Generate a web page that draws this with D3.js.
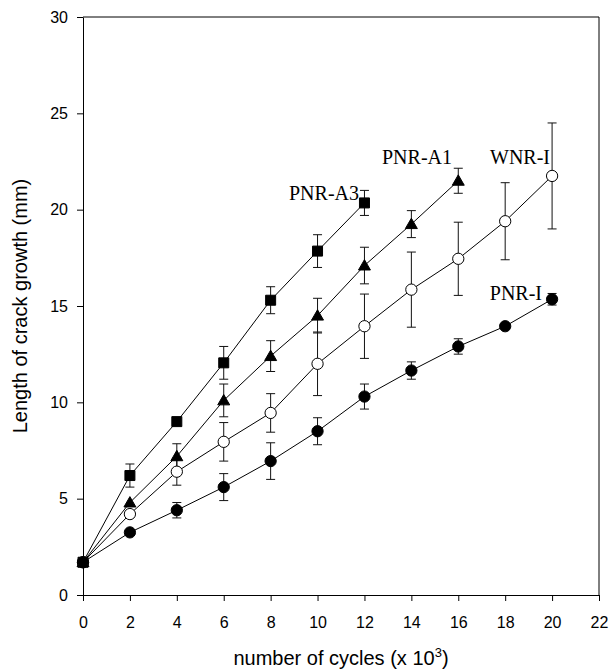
<!DOCTYPE html>
<html>
<head>
<meta charset="utf-8">
<script src="https://cdn.jsdelivr.net/npm/d3@7"></script>
<style>
  body { margin: 0; background: #fff; }
  svg { display: block; }
</style>
</head>
<body>
<div id="chart"></div>
<script>
// cycles (x 10^3) and crack growth (mm)
var cycles = [0, 2, 4, 6, 8, 10, 12, 14, 16, 18, 20];

var pnrA3    = [1.7, 6.2, 9.0, 12.05, 15.3, 17.85, 20.35];
var pnrA3Err = [0, 0.6, 0.15, 0.85, 0.7, 0.85, 0.65];

var pnrA1    = [1.7, 4.8, 7.2, 10.1, 12.4, 14.5, 17.1, 19.25, 21.5];
var pnrA1Err = [0, 0.2, 0.65, 0.85, 0.8, 0.9, 0.95, 0.7, 0.65];

var wnrI     = [1.7, 4.2, 6.4, 7.95, 9.45, 12.0, 13.95, 15.85, 17.45, 19.4, 21.75];
var wnrIErr  = [0, 0.1, 0.7, 1.0, 1.0, 1.65, 1.67, 1.95, 1.9, 2.0, 2.75];

var pnrI     = [1.7, 3.25, 4.4, 5.6, 6.95, 8.5, 10.3, 11.65, 12.9, 13.95, 15.35];
var pnrIErr  = [0, 0.1, 0.4, 0.7, 0.95, 0.7, 0.65, 0.45, 0.4, 0.1, 0.3];

var xTicks = [0, 2, 4, 6, 8, 10, 12, 14, 16, 18, 20, 22];
var yTicks = [0, 5, 10, 15, 20, 25, 30];

var width = 610, height = 670;
var margin = {top: 17, right: 11, bottom: 75, left: 83};

var series = [
  {name: "PNR-A3", y: pnrA3, err: pnrA3Err, shape: "square", lx: 359, ly: 200},
  {name: "PNR-A1", y: pnrA1, err: pnrA1Err, shape: "triangle", lx: 452, ly: 164},
  {name: "WNR-I", y: wnrI, err: wnrIErr, shape: "open", lx: 550, ly: 164},
  {name: "PNR-I", y: pnrI, err: pnrIErr, shape: "filled", lx: 542, ly: 300}
];

series.forEach(function(s) {
  s.points = s.y.map(function(v, i) { return {x: cycles[i], y: v, e: s.err[i]}; });
});

var svg = d3.select("#chart")
  .append("svg")
  .attr("width", width)
  .attr("height", height);

var x = d3.scaleLinear()
  .domain([0, 22])
  .range([margin.left, width - margin.right]);

var y = d3.scaleLinear()
  .domain([0, 30])
  .range([height - margin.bottom, margin.top]);

// frame (top and right sides)
svg.append("path")
  .attr("d", "M" + x(0) + "," + y(30) + "H" + x(22) + "V" + y(0))
  .attr("fill", "none")
  .attr("stroke", "#000")
  .attr("stroke-width", 1);

var xAxis = svg.append("g")
  .attr("transform", "translate(0," + y(0) + ")")
  .call(d3.axisBottom(x).tickValues(xTicks).tickSize(6).tickSizeOuter(0).tickPadding(16));

var yAxis = svg.append("g")
  .attr("transform", "translate(" + x(0) + ",0)")
  .call(d3.axisLeft(y).tickValues(yTicks).tickSize(6).tickSizeOuter(0).tickPadding(9));

[xAxis, yAxis].forEach(function(g) {
  g.selectAll("text")
    .attr("font-family", "'Liberation Sans', Arial, sans-serif")
    .attr("font-size", "16px")
    .attr("fill", "#000");
  g.selectAll("line, path").attr("stroke", "#000");
});

var line = d3.line()
  .x(function(d) { return x(d.x); })
  .y(function(d) { return y(d.y); });

// connecting lines
svg.append("g").selectAll("path")
  .data(series)
  .enter()
  .append("path")
  .attr("d", function(s) { return line(s.points); })
  .attr("fill", "none")
  .attr("stroke", "#000")
  .attr("stroke-width", 1);

// error bars
var capW = 4.5;
series.forEach(function(s) {
  var g = svg.append("g")
    .attr("stroke", "#111")
    .attr("stroke-width", 1);
  var bars = g.selectAll("g")
    .data(s.points.filter(function(d) { return d.e > 0.2; }))
    .enter()
    .append("g");
  bars.append("line")
    .attr("x1", function(d) { return x(d.x); })
    .attr("x2", function(d) { return x(d.x); })
    .attr("y1", function(d) { return y(d.y + d.e); })
    .attr("y2", function(d) { return y(d.y - d.e); });
  bars.append("line")
    .attr("x1", function(d) { return x(d.x) - capW; })
    .attr("x2", function(d) { return x(d.x) + capW; })
    .attr("y1", function(d) { return y(d.y + d.e); })
    .attr("y2", function(d) { return y(d.y + d.e); });
  bars.append("line")
    .attr("x1", function(d) { return x(d.x) - capW; })
    .attr("x2", function(d) { return x(d.x) + capW; })
    .attr("y1", function(d) { return y(d.y - d.e); })
    .attr("y2", function(d) { return y(d.y - d.e); });
});

// markers
var symSquare = d3.symbol().type(d3.symbolSquare).size(100);
var symTri = d3.symbol().type(d3.symbolTriangle).size(62);
var symCircle = d3.symbol().type(d3.symbolCircle).size(100);

series.forEach(function(s) {
  var sym = s.shape === "square" ? symSquare : (s.shape === "triangle" ? symTri : symCircle);
  svg.append("g").selectAll("path")
    .data(s.points)
    .enter()
    .append("path")
    .attr("d", sym)
    .attr("transform", function(d) {
      var dy = s.shape === "triangle" ? 1 : 0;
      return "translate(" + x(d.x) + "," + (y(d.y) + dy) + ")";
    })
    .attr("fill", s.shape === "open" ? "#fff" : "#000")
    .attr("stroke", "#000")
    .attr("stroke-width", 1);
});

// series labels
svg.append("g").selectAll("text")
  .data(series)
  .enter()
  .append("text")
  .attr("x", function(s) { return s.lx; })
  .attr("y", function(s) { return s.ly; })
  .attr("text-anchor", "end")
  .attr("font-family", "'Liberation Serif', 'Times New Roman', serif")
  .attr("font-size", "20px")
  .attr("fill", "#000")
  .text(function(s) { return s.name; });

// axis titles
var xt = svg.append("text")
  .attr("x", (x(0) + x(22)) / 2)
  .attr("y", 665)
  .attr("text-anchor", "middle")
  .attr("font-family", "'Liberation Sans', Arial, sans-serif")
  .attr("font-size", "20px")
  .attr("fill", "#000");
xt.append("tspan").text("number of cycles (x 10");
xt.append("tspan").attr("dy", -8).attr("font-size", "13px").text("3");
xt.append("tspan").attr("dy", 8).text(")");

svg.append("text")
  .attr("transform", "translate(27," + ((y(0) + y(30)) / 2) + ") rotate(-90)")
  .attr("text-anchor", "middle")
  .attr("font-family", "'Liberation Sans', Arial, sans-serif")
  .attr("font-size", "20px")
  .attr("fill", "#000")
  .text("Length of crack growth (mm)");
</script>
</body>
</html>
